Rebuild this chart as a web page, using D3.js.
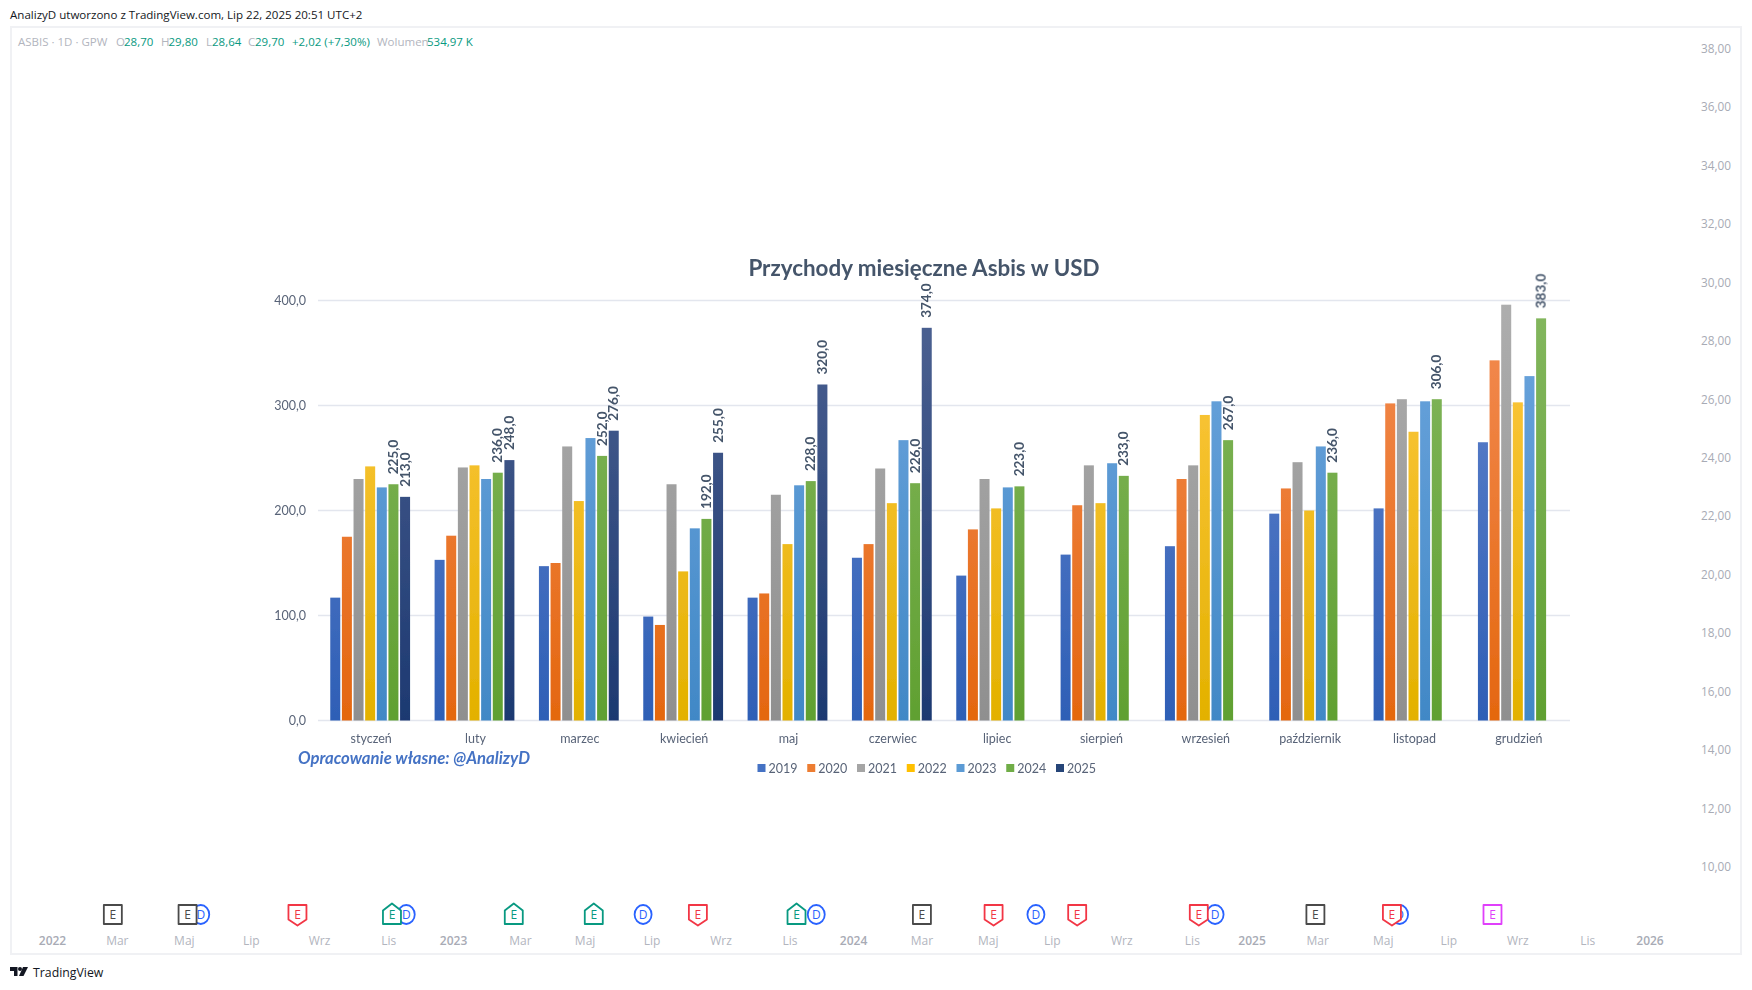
<!DOCTYPE html>
<html lang="pl">
<head>
<meta charset="utf-8">
<title>Przychody miesięczne Asbis w USD</title>
<script src="https://d3js.org/d3.v7.min.js"></script>
<style>
html,body{margin:0;padding:0;background:#fff;overflow:hidden}
svg{display:block}
.tv{font-family:"Open Sans","Noto Sans",sans-serif}
.xl{font-family:Lato,"Open Sans",sans-serif}
</style>
</head>
<body>
<svg id="chart" width="1752" height="990"></svg>
<script>
// Revenue data, USD, one array per year (months without a report are null)
const months = ["styczeń","luty","marzec","kwiecień","maj","czerwiec","lipiec","sierpień","wrzesień","październik","listopad","grudzień"];
const years = ["2019","2020","2021","2022","2023","2024","2025"];
const rev2019 = [117,153,147,99,117,155,138,158,166,197,202,265];
const rev2020 = [175,176,150,91,121,168,182,205,230,221,302,343];
const rev2021 = [230,241,261,225,215,240,230,243,243,246,306,396];
const rev2022 = [242,243,209,142,168,207,202,207,291,200,275,303];
const rev2023 = [222,230,269,183,224,267,222,245,304,261,304,328];
const rev2024 = [225,236,252,192,228,226,223,233,267,236,306,383];
const rev2025 = [213,248,276,255,320,374,null,null,null,null,null,null];
const revenue = [rev2019,rev2020,rev2021,rev2022,rev2023,rev2024,rev2025];
const labelledYears = ["2024","2025"];
const revenueTicks = [0,100,200,300,400];

// Bar gradients per year: top colour, bottom colour
const barTop = ["#6484cc","#f38c54","#aeaeae","#ffc945","#6ea6de","#84b75f","#4d6292"];
const barBottom = ["#2e5fb6","#e4670f","#8f8f8f","#e3b100","#4188c6","#60a031","#1d3971"];
const legendColors = ["#4472c4","#ed7d31","#a5a5a5","#ffc000","#5b9bd5","#70ad47","#264478"];

// Price panel behind the chart
const priceTicks = [38,36,34,32,30,28,26,24,22,20,18,16,14,12,10];
// Month labels fall on the first session of the month
const timeLabels = [
  ["2022-01-01","2022"],["2022-03-01","Mar"],["2022-05-01","Maj"],["2022-07-01","Lip"],["2022-09-01","Wrz"],["2022-11-03","Lis"],
  ["2023-01-01","2023"],["2023-03-03","Mar"],["2023-05-01","Maj"],["2023-07-01","Lip"],["2023-09-02","Wrz"],["2023-11-04","Lis"],
  ["2024-01-01","2024"],["2024-03-04","Mar"],["2024-05-04","Maj"],["2024-07-02","Lip"],["2024-09-04","Wrz"],["2024-11-08","Lis"],
  ["2025-01-02","2025"],["2025-03-03","Mar"],["2025-05-02","Maj"],["2025-07-01","Lip"],["2025-09-02","Wrz"],["2025-11-05","Lis"],
  ["2026-01-01","2026"]
];
const dividendDates = ["2022-05-15","2022-11-18","2023-06-22","2023-11-27","2024-06-16","2024-11-28","2025-05-16"];
// Earnings flags: date, result kind
const earningsDates = ["2022-02-24","2022-05-03","2022-08-11","2022-11-05","2023-02-24","2023-05-08","2023-08-11","2023-11-09","2024-03-03","2024-05-08","2024-07-24","2024-11-13","2025-02-28","2025-05-09","2025-08-09"];
const earningsKinds = ["flat","flat","miss","beat","beat","beat","miss","beat","flat","miss","miss","miss","flat","miss","next"];
const earningsColors = {flat:"#4a4a4a",miss:"#f23645",beat:"#089981",next:"#e040fb"};

// Header strip: label, value colour group
const quoteParts = [
  ["ASBIS · 1D · GPW",18,"#b2b5be"],["O",116,"#b2b5be"],["28,70",124,"#089981"],["H",161,"#b2b5be"],["29,80",168.5,"#089981"],
  ["L",206,"#b2b5be"],["28,64",212,"#089981"],["C",248,"#b2b5be"],["29,70",255,"#089981"],["+2,02 (+7,30%)",292,"#089981"],
  ["Wolumen",377,"#b2b5be"],["534,97 K",427,"#089981"]
];

const svg = d3.select("#chart");
const defs = svg.append("defs");
const fmt1 = v => d3.format(".1f")(v).replace(".", ",");
const fmt2 = v => d3.format(".2f")(v).replace(".", ",");

// --- TradingView frame ---
svg.append("text").attr("class","tv").attr("x",10).attr("y",19).attr("font-size",11.55).attr("fill","#131722")
  .text("AnalizyD utworzono z TradingView.com, Lip 22, 2025 20:51 UTC+2");
svg.append("rect").attr("x",11).attr("y",27).attr("width",1730).attr("height",927)
  .attr("fill","#fff").attr("stroke","#f0f1f4").attr("stroke-width",2);

svg.append("g").selectAll("text").data(quoteParts).join("text").attr("class","tv")
  .attr("x",d=>d[1]).attr("y",46).attr("font-size",11.5).attr("fill",d=>d[2]).text(d=>d[0]);

const priceY = d3.scaleLinear().domain([10,38]).range([867,49]);
svg.append("g").selectAll("text").data(priceTicks).join("text").attr("class","tv")
  .attr("x",1731).attr("y",d=>priceY(d)+4).attr("text-anchor","end").attr("font-size",11.8).attr("fill","#a8abb5")
  .text(fmt2);

const parseDay = d3.utcParse("%Y-%m-%d");
const timeX = d3.scaleUtc()
  .domain(["2022-01-01","2023-01-01","2024-01-01","2025-01-01","2026-01-01"].map(parseDay))
  .range([52.5,453.6,853.6,1251,1650]);
svg.append("g").selectAll("text").data(timeLabels).join("text").attr("class","tv")
  .attr("x",d=>timeX(parseDay(d[0]))).attr("y",945).attr("text-anchor","middle")
  .attr("font-size",12).attr("font-weight",d=>/^\d/.test(d[1])?600:400).attr("fill",d=>/^\d/.test(d[1])?"#a8abb5":"#b2b5be").text(d=>d[1]);

// Dividend markers sit under the earnings flags
const divG = svg.append("g").selectAll("g").data(dividendDates).join("g")
  .attr("transform",d=>`translate(${timeX(parseDay(d))+1},914.5)`);
divG.append("ellipse").attr("rx",8.5).attr("ry",9.5).attr("fill","#fff").attr("stroke","#2962ff").attr("stroke-width",1.8);
divG.append("text").attr("class","tv").attr("y",4.5).attr("text-anchor","middle").attr("font-size",12).attr("fill","#2962ff").text("D");

const flagPath = kind => {
  if (kind === "flat" || kind === "next") return "M-9,-9.5H9V9.5H-9Z";
  if (kind === "miss") return "M-9,-9.5H9V5L0,11L-9,5Z";
  return "M-9,-4L0,-11L9,-4V9.5H-9Z";
};
const eG = svg.append("g").selectAll("g").data(earningsDates).join("g")
  .attr("transform",d=>`translate(${timeX(parseDay(d))+1},914.5)`);
eG.append("path").attr("d",(d,i)=>flagPath(earningsKinds[i])).attr("fill","#fff")
  .attr("stroke",(d,i)=>earningsColors[earningsKinds[i]]).attr("stroke-width",1.8).attr("stroke-linejoin","round");
eG.append("text").attr("class","tv").attr("y",4.5).attr("text-anchor","middle").attr("font-size",12)
  .attr("fill",(d,i)=>earningsColors[earningsKinds[i]]).text("E");

// Footer logo
const logo = svg.append("g").attr("transform","translate(10,967)").attr("fill","#131722");
logo.append("path").attr("d","M0,0H7.5V9H4V4H0Z");
logo.append("circle").attr("cx",10).attr("cy",2).attr("r",2);
logo.append("path").attr("d","M13,0H18L13.5,9H9Z");
svg.append("text").attr("class","tv").attr("x",33).attr("y",977).attr("font-size",12.3).attr("fill","#131722").text("TradingView");

// --- Revenue chart ---
const chart = svg.append("g").attr("class","xl").attr("filter","url(#soft)");
defs.append("filter").attr("id","soft").attr("x","-5%").attr("y","-5%").attr("width","110%").attr("height","110%")
  .append("feGaussianBlur").attr("stdDeviation",0.35);

const y = d3.scaleLinear().domain([0,400]).range([720.5,300.5]);
const x0 = d3.scaleBand().domain(months).range([318,1570]).paddingInner(0.235).paddingOuter(0.1175);
const x1 = d3.scaleBand().domain(years).range([0,x0.bandwidth()]).paddingInner(0.14);

years.forEach((yr,i)=>{
  const g = defs.append("linearGradient").attr("id",`bar${yr}`).attr("gradientUnits","userSpaceOnUse")
    .attr("x1",0).attr("x2",0).attr("y1",y(400)).attr("y2",y(0));
  g.append("stop").attr("offset",0).attr("stop-color",barTop[i]);
  g.append("stop").attr("offset",1).attr("stop-color",barBottom[i]);
});

const yAxis = d3.axisLeft(y).tickValues(revenueTicks).tickSize(0).tickPadding(0).tickFormat(fmt1);
const axisG = chart.append("g").attr("transform","translate(306,0)").call(yAxis);
axisG.select(".domain").remove();
axisG.selectAll("text").attr("font-size",12.5).attr("font-family","Lato,sans-serif").attr("fill","#596478");

chart.append("g").selectAll("line").data(revenueTicks).join("line")
  .attr("x1",318).attr("x2",1570).attr("y1",d=>y(d)).attr("y2",d=>y(d))
  .attr("stroke","#e3e6ee").attr("stroke-width",1.4);

const xAxis = d3.axisBottom(x0).tickSize(0).tickPadding(0);
const xG = chart.append("g").attr("transform","translate(1,734)").call(xAxis);
xG.select(".domain").remove();
xG.selectAll("text").attr("font-size",12.5).attr("font-family","Lato,sans-serif").attr("fill","#596478");

years.forEach((yr,s)=>{
  const pts = months.map((m,i)=>({m,i,v:revenue[s][i]})).filter(d=>d.v!=null);
  chart.append("g").attr("data-year",yr).selectAll("rect").data(pts).join("rect")
    .attr("x",d=>x0(d.m)+x1(yr)).attr("width",x1.bandwidth())
    .attr("y",d=>y(d.v)).attr("height",d=>y(0)-y(d.v))
    .attr("fill",`url(#bar${yr})`);
  if (labelledYears.includes(yr)) {
    chart.append("g").selectAll("text").data(pts).join("text")
      .attr("transform",d=>`translate(${x0(d.m)+x1(yr)+x1.bandwidth()/2+4.5},${y(d.v)-10}) rotate(-90)`)
      .attr("font-size",13.5).attr("font-weight",700).attr("fill","#44546a").text(d=>fmt1(d.v));
  }
});

chart.append("text").attr("x",924).attr("y",276).attr("text-anchor","middle").attr("font-size",22.4)
  .attr("font-weight",700).attr("fill","#44546a").text("Przychody miesięczne Asbis w USD");
chart.append("text").attr("x",298).attr("y",764).attr("font-size",16.7).attr("font-weight",700).attr("font-style","italic")
  .attr("fill","#4472c4").text("Opracowanie własne: @AnalizyD");

const legendX = d3.scalePoint().domain(years).range([757.5,1056]);
const lg = chart.append("g").selectAll("g").data(years).join("g")
  .attr("transform",d=>`translate(${legendX(d)},768)`);
lg.append("rect").attr("y",-4).attr("width",8).attr("height",8).attr("fill",(d,i)=>legendColors[i]);
lg.append("text").attr("x",11).attr("y",4.5).attr("font-size",12.5).attr("fill","#596478").text(d=>d);
</script>
</body>
</html>
